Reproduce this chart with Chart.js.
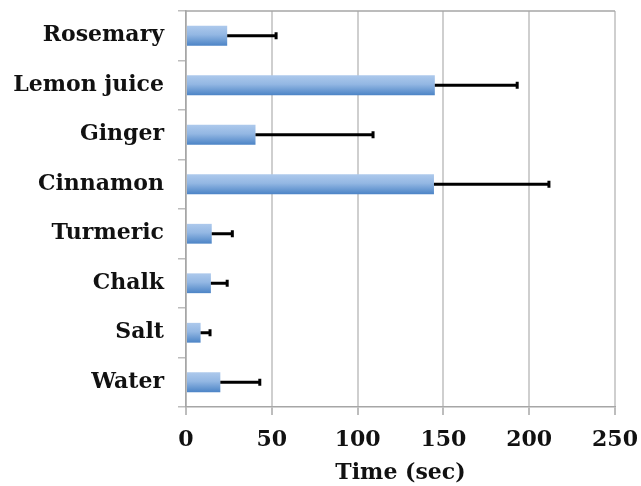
<!DOCTYPE html>
<html>
<head>
<meta charset="utf-8">
<script src="https://cdn.jsdelivr.net/npm/chart.js@4"></script>
<style>
  html, body { margin: 0; padding: 0; background: #fff; }
  #wrap { width: 641px; height: 486px; }
</style>
</head>
<body>
<div id="wrap"><canvas id="c" width="641" height="486"></canvas></div>
<script>
// Mean time (sec) and error for each substance
const categories = ['Rosemary', 'Lemon juice', 'Ginger', 'Cinnamon', 'Turmeric', 'Chalk', 'Salt', 'Water'];
const meanTimes = [24, 145, 40.5, 144.5, 15, 14.5, 8.5, 20];
const errorTimes = [28.5, 48, 68.5, 67, 12, 9.5, 5.5, 23];
const xTickValues = [0, 50, 100, 150, 200, 250];

const labelFont = { family: '"DejaVu Serif", "Liberation Serif", serif', size: 22, weight: 'bold' };

// Vertical blue gradient for each bar, computed from the category scale
function barGradient(c) {
  const chart = c.chart;
  const ys = chart.scales && chart.scales.y;
  if (!ys || c.type !== 'data') return '#8db4e2';
  const cy = ys.getPixelForValue(c.dataIndex);
  const step = Math.abs(ys.getPixelForValue(1) - ys.getPixelForValue(0));
  if (!isFinite(cy) || !isFinite(step) || step === 0) return '#8db4e2';
  const h = step * 0.4 / 2;
  const g = chart.ctx.createLinearGradient(0, cy - h, 0, cy + h);
  g.addColorStop(0, '#adc9ec');
  g.addColorStop(0.45, '#93b7e3');
  g.addColorStop(1, '#4c84c6');
  return g;
}

// Plus-direction error bars with a small end cap
const errorBars = {
  id: 'errorBars',
  afterDatasetsDraw(chart) {
    const { ctx, scales: { x } } = chart;
    const meta = chart.getDatasetMeta(0);
    ctx.save();
    ctx.strokeStyle = '#000';
    ctx.lineWidth = 3;
    meta.data.forEach((bar, i) => {
      const yc = bar.y;
      const xs = x.getPixelForValue(meanTimes[i]);
      const xe = x.getPixelForValue(meanTimes[i] + errorTimes[i]);
      ctx.beginPath();
      ctx.moveTo(xs, yc);
      ctx.lineTo(xe, yc);
      ctx.stroke();
      ctx.beginPath();
      ctx.moveTo(xe, yc - 3.5);
      ctx.lineTo(xe, yc + 3.5);
      ctx.stroke();
    });
    ctx.restore();
  }
};

// Top edge of the plot frame
const plotFrame = {
  id: 'plotFrame',
  beforeDatasetsDraw(chart) {
    const { ctx, chartArea: a } = chart;
    ctx.save();
    ctx.strokeStyle = '#a6a6a6';
    ctx.lineWidth = 1.5;
    ctx.beginPath();
    ctx.moveTo(a.left, a.top);
    ctx.lineTo(a.right, a.top);
    ctx.stroke();
    ctx.restore();
  }
};

new Chart(document.getElementById('c'), {
  type: 'bar',
  data: {
    labels: categories,
    datasets: [{
      data: meanTimes,
      backgroundColor: barGradient,
      borderWidth: 0,
      barPercentage: 0.8,
      categoryPercentage: 0.5
    }]
  },
  options: {
    indexAxis: 'y',
    responsive: false,
    animation: false,
    devicePixelRatio: 1,
    layout: { padding: { top: 11, right: 26, left: 0, bottom: 0 } },
    plugins: { legend: { display: false }, tooltip: { enabled: false } },
    scales: {
      x: {
        min: 0,
        max: 250,
        afterBuildTicks(scale) { scale.ticks = xTickValues.map(v => ({ value: v })); },
        afterFit(scale) {
          scale.height = 79;
          scale.paddingLeft = 0;
          scale.paddingRight = 0;
        },
        grid: { color: '#cfcfcf', lineWidth: 2, tickColor: '#bdbdbd', tickLength: 8 },
        border: { color: '#a6a6a6', width: 1.5 },
        ticks: { color: '#111', font: labelFont, padding: 12 },
        title: { display: true, text: 'Time (sec)', color: '#111', font: labelFont, padding: { top: 2, bottom: 0 } }
      },
      y: {
        afterFit(scale) {
          scale.width = 186;
          scale.paddingTop = 0;
          scale.paddingBottom = 0;
        },
        grid: { drawOnChartArea: false, tickColor: '#bdbdbd', tickLength: 8, lineWidth: 1.5 },
        border: { color: '#a6a6a6', width: 1.5 },
        ticks: { color: '#111', font: labelFont, padding: 14 }
      }
    }
  },
  plugins: [plotFrame, errorBars]
});
</script>
</body>
</html>
